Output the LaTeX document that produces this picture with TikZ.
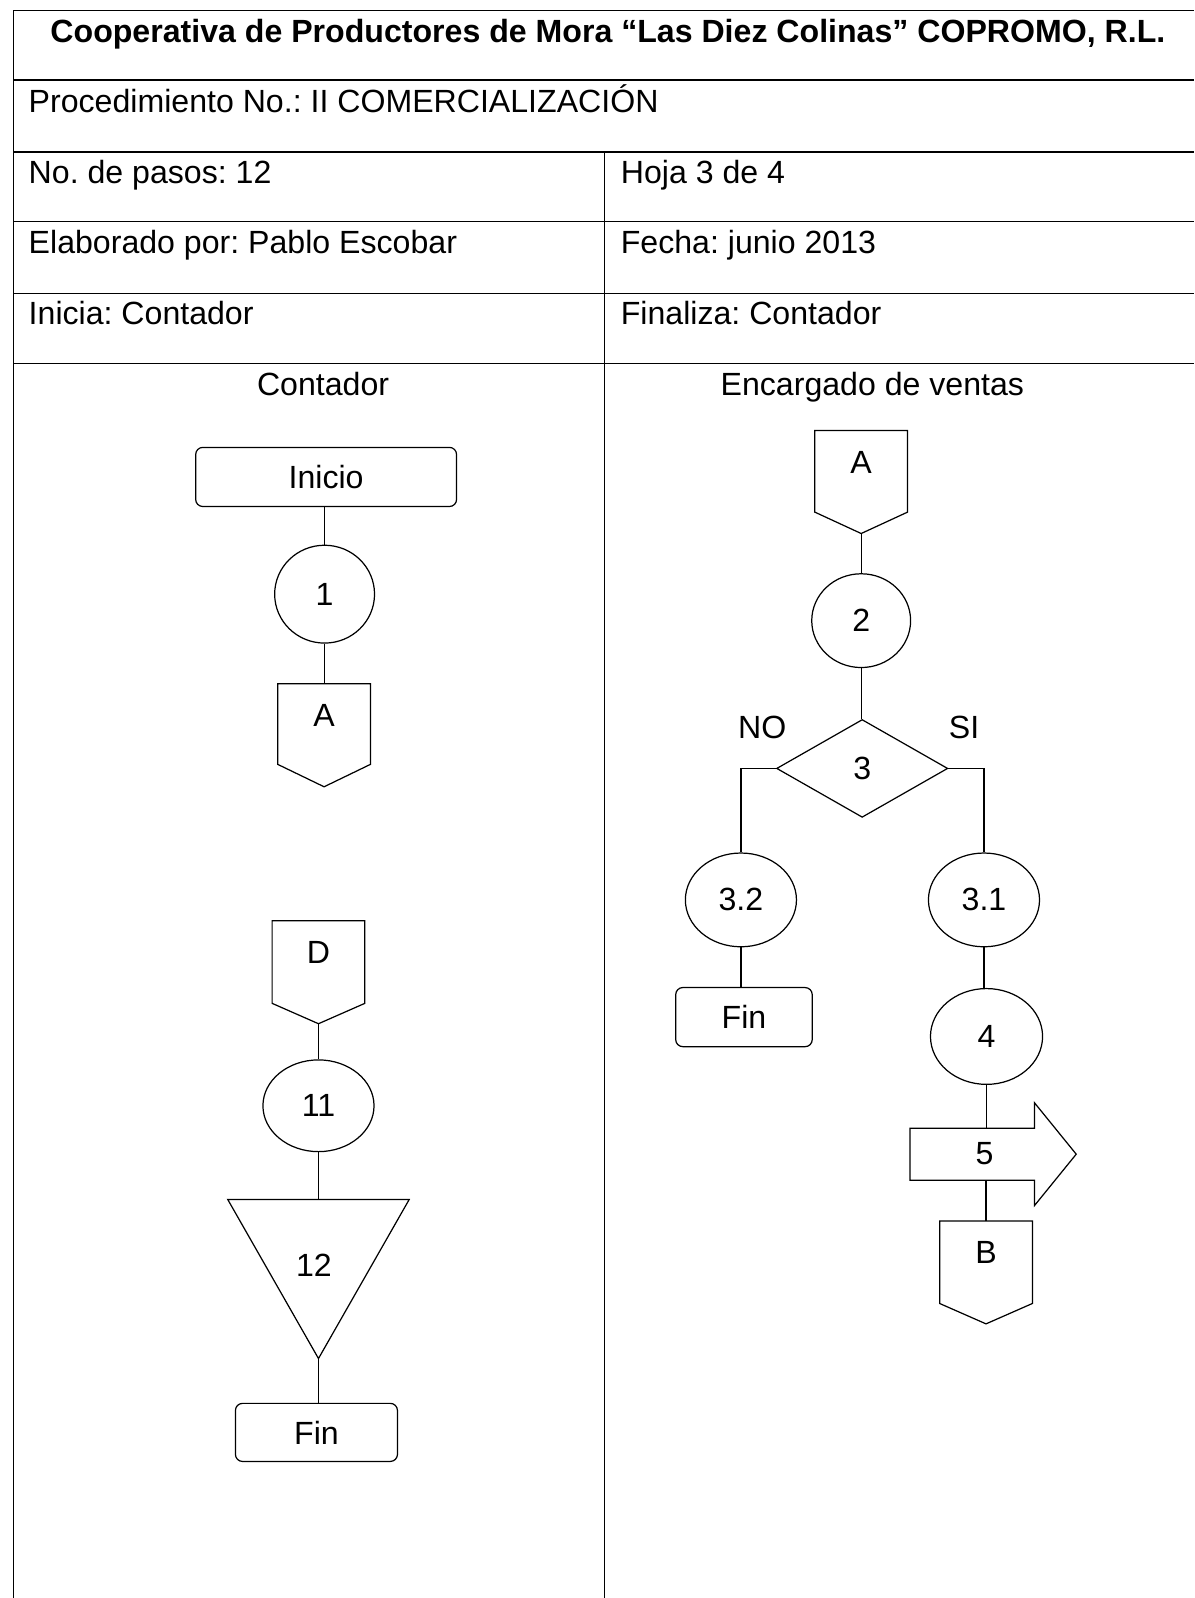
\documentclass[tikz,border=0pt]{standalone}
\usepackage{fontspec}
\setmainfont{Liberation Sans}
\usetikzlibrary{shapes.geometric,calc}
\frenchspacing
\tikzset{
 tline/.style={line width=1.4pt},
 sline/.style={line width=1.2pt},
 txt/.style={inner sep=0pt, font=\fontsize{31.5}{36}\selectfont},
 term/.style={draw, sline, rounded corners=7pt, inner sep=0pt, txt},
 circ/.style={draw, sline, ellipse, inner sep=0pt, txt},
 box/.style={inner sep=0pt, outer sep=0pt},
 link/.style={sline}
}
\newcommand\offpage[4]{%
 \node[box, minimum width=91pt, minimum height=101pt] (#1) at (#2) {};
 \draw[sline] (#1.north west) -- (#1.north east) -- ([yshift=#4pt]#1.south east) -- (#1.south) -- ([yshift=#4pt]#1.south west) -- cycle;
 \node[txt] (#1-t) at ([yshift=-31pt]#1.north) {#3};
}
\begin{document}
\begin{tikzpicture}[x=1pt,y=1pt]
\useasboundingbox (0,0) rectangle (1172,-1568);
% table
\draw[tline] (13,-1568) -- (13,-10.5) -- (1172,-10.5);
\foreach \yy in {78.5,149,217.6,288,356.5}{\draw[tline] (13,-\yy) -- (1172,-\yy);}
\draw[tline] (593,-149) -- (593,-1568);
% table texts
\node[txt, anchor=base, font=\fontsize{31.5}{36}\selectfont\bfseries] (title) at (596.5,-42) {Cooperativa de Productores de Mora “Las Diez Colinas” COPROMO, R.L.};
\node[txt, anchor=base west] (proc) at (28,-110) {Procedimiento No.: II COMERCIALIZACIÓN};
\node[txt, anchor=base west] (pasos) at (28,-180) {No. de pasos: 12};
\node[txt, anchor=base west] (hoja) at (609,-180) {Hoja 3 de 4};
\node[txt, anchor=base west] (elab) at (28,-248.5) {Elaborado por: Pablo Escobar};
\node[txt, anchor=base west] (fecha) at (609,-248.5) {Fecha: junio 2013};
\node[txt, anchor=base west] (inicia) at (28,-318) {Inicia: Contador};
\node[txt, anchor=base west] (finaliza) at (609,-318) {Finaliza: Contador};
\node[txt, anchor=base] (lane1) at (317,-388) {Contador};
\node[txt, anchor=base] (lane2) at (856,-388) {Encargado de ventas};
% left lane
\node[term, minimum width=256pt, minimum height=58pt] (inicio) at (320,-468) {Inicio};
\node[circ, minimum width=98pt, minimum height=96pt] (e1) at (318.5,-583) {1};
\offpage{cA1}{318,-721.5}{A}{22}
\offpage{cD}{312.5,-954}{D}{20}
\node[circ, minimum width=109pt, minimum height=90pt] (e11) at (312.5,-1085) {11};
\node[box, minimum width=178pt, minimum height=156pt] (tri) at (312.5,-1255) {};
\draw[sline] (tri.north west) -- (tri.north east) -- (tri.south) -- cycle;
\node[txt] (tri-t) at (308,-1242) {12};
\node[term, minimum width=159pt, minimum height=57pt] (fin1) at (310.5,-1405.5) {Fin};
\draw[link] (e1.north |- inicio.south) -- (e1.north);
\draw[link] (e1.south) -- (e1.south |- cA1.north);
\draw[link] (cD.south) -- (e11.north);
\draw[link] (e11.south) -- (e11.south |- tri.north);
\draw[link] (tri.south) -- (tri.south |- fin1.north);
% right lane
\offpage{cA2}{845,-473}{A}{21}
\node[circ, minimum width=97pt, minimum height=92pt] (e2) at (845,-609) {2};
\node[draw, sline, diamond, minimum width=168pt, minimum height=96pt, txt] (d3) at (846,-754) {3};
\node[txt] (no) at (748,-714) {NO};
\node[txt] (si) at (946,-714) {SI};
\node[circ, minimum width=109pt, minimum height=92pt] (e32) at (727,-883) {3.2};
\node[term, minimum width=134pt, minimum height=58pt] (fin2) at (730,-998) {Fin};
\node[circ, minimum width=109pt, minimum height=92pt] (e31) at (965.5,-883) {3.1};
\node[circ, minimum width=110pt, minimum height=94pt] (e4) at (968,-1017) {4};
\node[box, minimum width=122pt, minimum height=51pt] (s5) at (954,-1132.5) {};
\draw[sline] (s5.north west) -- (s5.north east) -- ++(0,25) -- ($(s5.east)+(41,0)$) -- ($(s5.south east)+(0,-25)$) -- (s5.south east) -- (s5.south west) -- cycle;
\node[txt] (s5-t) at (966,-1132) {5};
\offpage{cB}{967.5,-1248.5}{B}{20}
\draw[link] (cA2.south) -- (e2.north);
\draw[link] (e2.south) -- (e2.south |- d3.north);
\draw[link] (d3.west) -- (e32.north |- d3.west) -- (e32.north);
\draw[link] (d3.east) -- (e31.north |- d3.east) -- (e31.north);
\draw[link] (e32.south) -- (e32.south |- fin2.north);
\draw[link] (e31.south) -- (e31.south |- e4.north);
\draw[link] (e4.south) -- (e4.south |- s5.north);
\draw[link] (cB.north |- s5.south) -- (cB.north);
\end{tikzpicture}
\end{document}
